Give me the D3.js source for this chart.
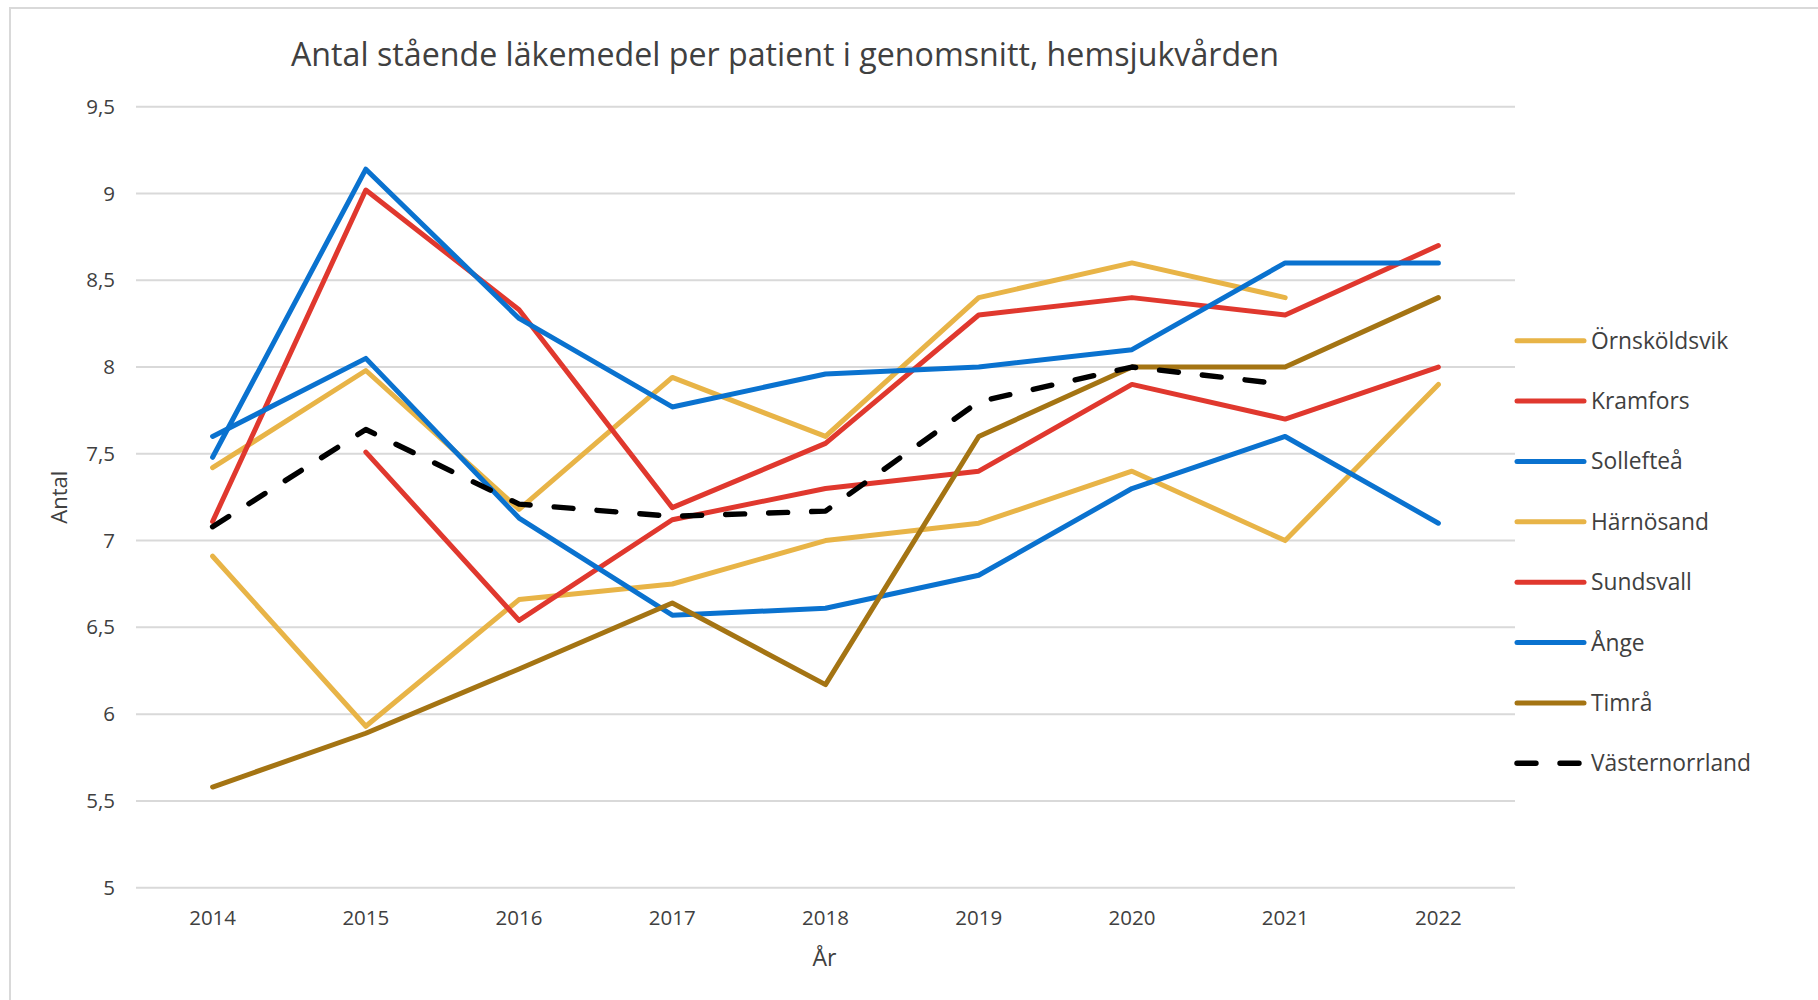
<!DOCTYPE html>
<html>
<head>
<meta charset="utf-8">
<script src="https://cdn.jsdelivr.net/npm/d3@7"></script>
<style>
  html, body { margin: 0; padding: 0; background: #fff; }
  svg { display: block; }
</style>
</head>
<body>
<svg id="chart" width="1818" height="1000"></svg>
<script>
const years = ["2014","2015","2016","2017","2018","2019","2020","2021","2022"];
const yTicks = [5, 5.5, 6, 6.5, 7, 7.5, 8, 8.5, 9, 9.5];

const ornskoldsvik   = [7.42, 7.98, 7.18, 7.94, 7.60, 8.40, 8.60, 8.40, null];
const kramfors       = [7.11, 9.02, 8.33, 7.19, 7.56, 8.30, 8.40, 8.30, 8.70];
const solleftea      = [7.48, 9.14, 8.28, 7.77, 7.96, 8.00, 8.10, 8.60, 8.60];
const harnosand      = [6.91, 5.93, 6.66, 6.75, 7.00, 7.10, 7.40, 7.00, 7.90];
const sundsvall      = [null, 7.51, 6.54, 7.12, 7.30, 7.40, 7.90, 7.70, 8.00];
const ange           = [7.60, 8.05, 7.13, 6.57, 6.61, 6.80, 7.30, 7.60, 7.10];
const timra          = [5.58, 5.89, 6.26, 6.64, 6.17, 7.60, 8.00, 8.00, 8.40];
const vasternorrland = [7.08, 7.64, 7.21, 7.14, 7.17, 7.80, 8.00, 7.90, null];

const seriesNames  = ["Örnsköldsvik","Kramfors","Sollefteå","Härnösand","Sundsvall","Ånge","Timrå","Västernorrland"];
const seriesValues = [ornskoldsvik, kramfors, solleftea, harnosand, sundsvall, ange, timra, vasternorrland];
const seriesColors = ["#E8B447","#E0382E","#0A72CF","#E8B447","#E0382E","#0A72CF","#A47413","#000000"];
const seriesDashed = [false,false,false,false,false,false,false,true];

const svg = d3.select("#chart");

// chart area border
svg.append("path")
  .attr("d", "M10,1000 L10,8 L1818,8")
  .attr("fill", "none")
  .attr("stroke", "#D9D9D9")
  .attr("stroke-width", 2);

const plotLeft = 136, plotRight = 1515, plotTop = 106.7, plotBottom = 887.7;

const x = d3.scaleBand().domain(years).range([plotLeft, plotRight]);
const y = d3.scaleLinear().domain([5, 9.5]).range([plotBottom, plotTop]);

// gridlines
svg.append("g")
  .selectAll("line")
  .data(yTicks)
  .join("line")
  .attr("x1", plotLeft).attr("x2", plotRight)
  .attr("y1", d => y(d)).attr("y2", d => y(d))
  .attr("stroke", "#D9D9D9")
  .attr("stroke-width", 2);

const tickFont = "'Open Sans', sans-serif";

// y axis
const yAxis = svg.append("g")
  .attr("transform", `translate(${plotLeft},0)`)
  .call(d3.axisLeft(y).tickValues(yTicks).tickSize(0).tickPadding(21)
    .tickFormat(d => String(d).replace(".", ",")));
yAxis.select(".domain").remove();
yAxis.selectAll("text")
  .attr("font-family", tickFont)
  .attr("font-size", 20.5)
  .attr("fill", "#404040");

// x axis
const xAxis = svg.append("g")
  .attr("transform", `translate(0,${plotBottom})`)
  .call(d3.axisBottom(x).tickSize(0).tickPadding(23));
xAxis.select(".domain").remove();
xAxis.selectAll("text")
  .attr("font-family", tickFont)
  .attr("font-size", 20.5)
  .attr("fill", "#404040");

// axis titles
svg.append("text")
  .attr("transform", `translate(67,${(plotTop + plotBottom) / 2}) rotate(-90)`)
  .attr("text-anchor", "middle")
  .attr("font-family", "'Open Sans', sans-serif")
  .attr("font-size", 22)
  .attr("fill", "#404040")
  .text("Antal");

svg.append("text")
  .attr("x", (plotLeft + plotRight) / 2 - 1)
  .attr("y", 966)
  .attr("text-anchor", "middle")
  .attr("font-family", tickFont)
  .attr("font-size", 23)
  .attr("fill", "#404040")
  .text("År");

// title
svg.append("text")
  .attr("x", 785)
  .attr("y", 66)
  .attr("text-anchor", "middle")
  .attr("font-family", "'Open Sans', sans-serif")
  .attr("font-size", 32.2)
  .attr("fill", "#404040")
  .text("Antal stående läkemedel per patient i genomsnitt, hemsjukvården");

// lines
const line = d3.line()
  .defined(d => d.v !== null)
  .x(d => x(d.year) + x.bandwidth() / 2)
  .y(d => y(d.v));

const lines = svg.append("g");
seriesValues.forEach((vals, i) => {
  const data = years.map((yr, j) => ({ year: yr, v: vals[j] }));
  lines.append("path")
    .datum(data)
    .attr("d", line)
    .attr("fill", "none")
    .attr("stroke", seriesColors[i])
    .attr("stroke-width", seriesDashed[i] ? 5.4 : 5)
    .attr("stroke-linejoin", "round")
    .attr("stroke-linecap", "round")
    .attr("stroke-dasharray", seriesDashed[i] ? "19,24" : null);
});

// legend
const legendTop = 340.7, legendStep = 60.37;
const legend = svg.append("g");
seriesNames.forEach((name, i) => {
  const ly = legendTop + i * legendStep;
  legend.append("line")
    .attr("x1", 1517).attr("x2", 1584)
    .attr("y1", ly).attr("y2", ly)
    .attr("stroke", seriesColors[i])
    .attr("stroke-width", seriesDashed[i] ? 5.4 : 5)
    .attr("stroke-linecap", "round")
    .attr("stroke-dasharray", seriesDashed[i] ? "19,24" : null);
  legend.append("text")
    .attr("x", 1591)
    .attr("y", ly)
    .attr("dy", "0.35em")
    .attr("font-family", "'Open Sans', sans-serif")
    .attr("font-size", 22.8)
    .attr("fill", "#404040")
    .text(name);
});
</script>
</body>
</html>
